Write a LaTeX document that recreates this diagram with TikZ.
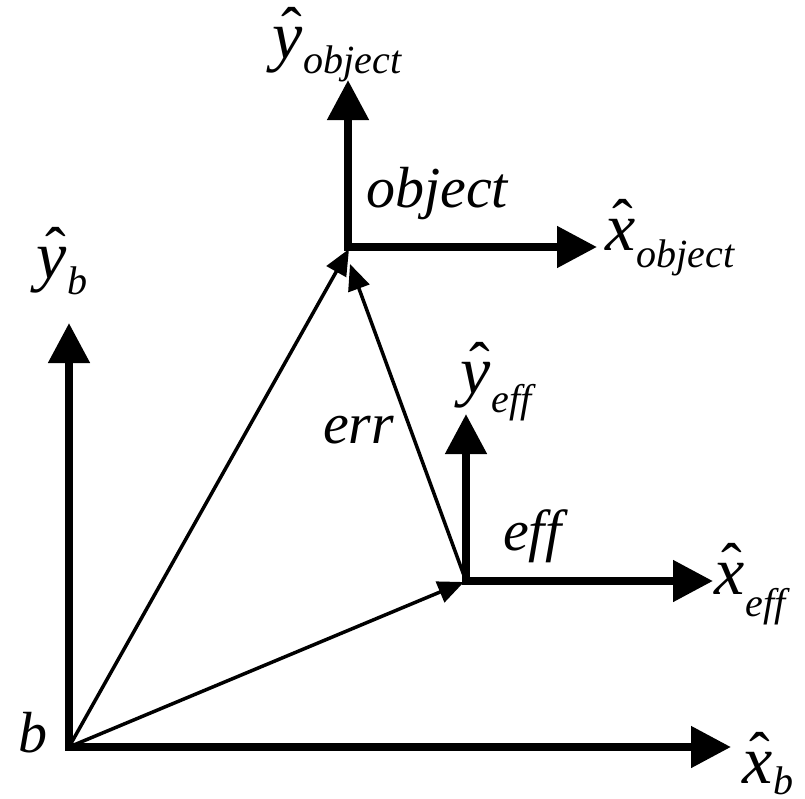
\documentclass[tikz,border=0pt]{standalone}
\usepackage{fontspec}
\setmainfont{Liberation Serif}
\usetikzlibrary{arrows.meta}
% letter, subscript, lowering of subscript, hat shift
\newcommand{\hatlbl}[4]{\fontsize{68}{68}\selectfont\rlap{\kern#4\raisebox{8pt}{\fontsize{62}{62}\selectfont\char"02C6}}\textit{#1}\kern1pt\raisebox{-#3}{\fontsize{40}{40}\selectfont\itshape #2}}
\tikzset{
  axis/.style={line width=8pt, line join=miter, {Triangle[length=40pt,width=40pt]}-{Triangle[length=40pt,width=40pt]}},
  vec/.style={line width=3.5pt, -{Triangle[length=26pt,width=22pt]}},
  lbl/.style={inner sep=0pt, anchor=base west},
  txt/.style={inner sep=0pt, anchor=base west, font=\fontsize{58}{58}\selectfont\itshape}
}
\begin{document}
\begin{tikzpicture}[x=1pt,y=-1pt]
\useasboundingbox (0,0) rectangle (805,798);
% frame origins and axis tips
\coordinate (B) at (69,747);
\coordinate (O) at (348,247);
\coordinate (E) at (466,581);
\coordinate (xb) at (731,747);
\coordinate (yb) at (69,323);
\coordinate (xo) at (597,247);
\coordinate (yo) at (348,80);
\coordinate (xe) at (713,581);
\coordinate (ye) at (466,414);
% tips of the thin vectors
\coordinate (BOtip) at (349,249);
\coordinate (BEtip) at (464,582);
\coordinate (ERtip) at (350,264);
% axes
\draw[axis] (yb) -- (B) -- (xb);
\draw[axis] (yo) -- (O) -- (xo);
\draw[axis] (ye) -- (E) -- (xe);
% vectors
\draw[vec] (B) -- (BOtip);
\draw[vec] (B) -- (BEtip);
\draw[vec] (E) -- (ERtip);
% labels
\node[lbl] (lyo) at (272,58) {\hatlbl{y}{object}{15pt}{9pt}};
\node[lbl] (lxo) at (605,250) {\hatlbl{x}{object}{17pt}{7pt}};
\node[lbl] (lyb) at (36,278) {\hatlbl{y}{b}{16pt}{9pt}};
\node[lbl] (lye) at (460,393) {\hatlbl{y}{eff}{19pt}{9pt}};
\node[lbl] (lxe) at (714,594) {\hatlbl{x}{eff}{22pt}{7pt}};
\node[lbl] (lxb) at (742,783) {\hatlbl{x}{b}{11pt}{7pt}};
\node[txt] (tobj) at (366,207) {object};
\node[txt] (terr) at (323,443) {err};
\node[txt] (teff) at (503,550) {eff};
\node[txt] (tb) at (18,752) {b};
\end{tikzpicture}
\end{document}
